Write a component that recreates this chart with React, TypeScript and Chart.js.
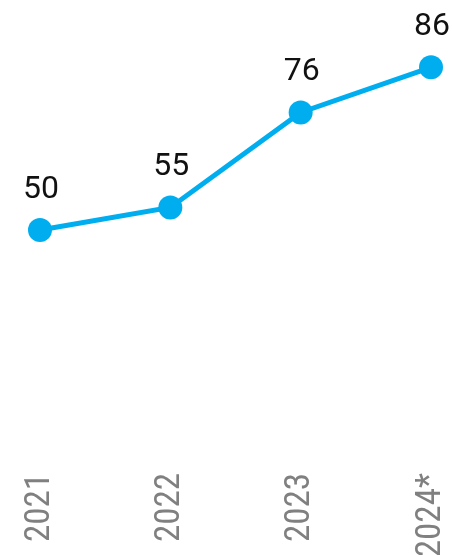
import React, { useEffect, useRef } from "react";
import { Chart, registerables } from "chart.js";

Chart.register(...registerables);

const categories: string[] = ["2021", "2022", "2023", "2024*"];
const values: number[] = [50, 55, 76, 86];

const LINE_COLOR = "#00AEEF";

const dataLabelPlugin = {
  id: "dataLabels",
  afterDatasetsDraw(chart: any) {
    const ctx = chart.ctx;
    const meta = chart.getDatasetMeta(0);
    ctx.save();
    ctx.font = '32px Roboto, "Liberation Sans", Arial, sans-serif';
    ctx.fillStyle = "#111111";
    ctx.textAlign = "center";
    ctx.textBaseline = "alphabetic";
    meta.data.forEach((pt: any, i: number) => {
      const v = chart.data.datasets[0].data[i];
      ctx.fillText(String(v), pt.x + 1, pt.y - 32);
    });
    ctx.restore();
  },
};

export default function App() {
  const ref = useRef<HTMLCanvasElement | null>(null);
  useEffect(() => {
    if (!ref.current) return;
    const chart = new Chart(ref.current, {
      type: "line",
      data: {
        labels: categories,
        datasets: [
          {
            data: values,
            borderColor: LINE_COLOR,
            backgroundColor: LINE_COLOR,
            borderWidth: 5,
            pointRadius: 12,
            pointBorderWidth: 0,
            pointBackgroundColor: LINE_COLOR,
            tension: 0,
            clip: false as any,
          },
        ],
      },
      options: {
        animation: false,
        responsive: false,
        maintainAspectRatio: false,
        layout: { autoPadding: false, padding: { left: 40, right: 21, top: 4, bottom: 0 } },
        plugins: {
          legend: { display: false },
          tooltip: { enabled: false },
        },
        scales: {
          x: {
            offset: false,
            grid: { display: false, drawTicks: false },
            border: { display: false },
            afterFit: (scale: any) => {
              scale.height = 99;
              scale.paddingLeft = 0;
              scale.paddingRight = 0;
            },
            ticks: {
              maxRotation: 90,
              minRotation: 90,
              padding: 17,
              color: "#808080",
              autoSkip: false,
              font: { family: 'Roboto, "Liberation Sans", Arial, sans-serif', size: 35, weight: "condensed" as any },
            },
          },
          y: {
            display: false,
            min: 0,
            max: 100,
          },
        },
      },
      plugins: [dataLabelPlugin],
    });
    return () => chart.destroy();
  }, []);
  return (
    <div style={{ position: "fixed", left: 0, top: 0, width: 452, height: 555, overflow: "hidden", background: "#fff" }}>
      <canvas ref={ref} width={452} height={555} style={{ width: 452, height: 555, display: "block" }} />
    </div>
  );
}
